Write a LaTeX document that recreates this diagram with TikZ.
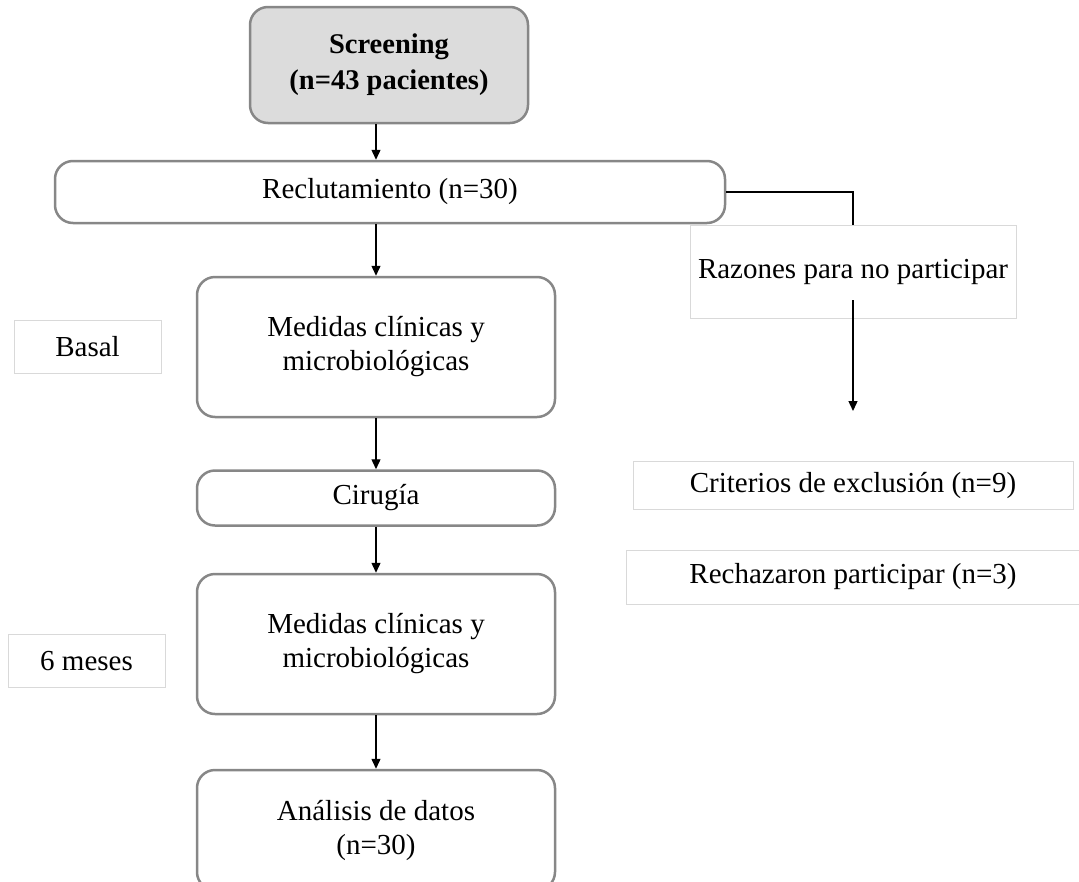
\documentclass[tikz,border=0pt]{standalone}
\usepackage{fontspec}
\setmainfont{Liberation Serif}
\usetikzlibrary{arrows.meta}
\definecolor{boxgray}{HTML}{878787}
\definecolor{fillgray}{HTML}{DCDCDC}
\definecolor{faint}{HTML}{D9D9D9}
\begin{document}
\begin{tikzpicture}[x=1pt,y=-1pt,
  txt/.style={font=\fontsize{29}{34}\selectfont, align=center, inner sep=0pt},
  rbox/.style={txt, draw=boxgray, line width=2.5pt, rounded corners=18pt},
  lbox/.style={txt, draw=faint, line width=1pt},
  arr/.style={line width=1.4pt, -{Triangle[length=10pt,width=9pt]}},
  con/.style={line width=1.4pt}]
\useasboundingbox (0,0) rectangle (1079,881);
\node[rbox, fill=fillgray, minimum width=278pt, minimum height=116pt, font=\fontsize{28.5}{36}\selectfont\bfseries] (scr) at (389,65) {Screening\\(n=43 pacientes)};
\node[rbox, minimum width=670pt, minimum height=62pt] (rec) at (390,192) {Reclutamiento (n=30)};
\node[rbox, minimum width=358pt, minimum height=140pt] (m1) at (376,347) {Medidas clínicas y\\microbiológicas};
\node[rbox, minimum width=358pt, minimum height=55pt] (cir) at (376,498) {Cirugía};
\node[rbox, minimum width=358pt, minimum height=140pt] (m2) at (376,644) {Medidas clínicas y\\microbiológicas};
\node[rbox, minimum width=358pt, minimum height=120pt] (ana) at (376,830) {Análisis de datos\\(n=30)};
\node[lbox, minimum width=147pt, minimum height=53pt] (bas) at (87.5,347) {Basal};
\node[lbox, minimum width=157pt, minimum height=53pt] (six) at (86.5,661) {6 meses};
\node[lbox, minimum width=326pt, minimum height=93pt] (raz) at (853,272) {Razones para no participar};
\node[lbox, minimum width=440pt, minimum height=48pt] (cri) at (853,485) {Criterios de exclusión (n=9)};
\node[lbox, minimum width=454pt, minimum height=54pt] (rch) at (853,577) {Rechazaron participar (n=3)};
\draw[arr] (scr.south -| m1.center) -- (rec.north -| m1.center);
\draw[arr] (rec.south -| m1.center) -- (m1.north);
\draw[arr] (m1.south) -- (cir.north);
\draw[arr] (cir.south) -- (m2.north);
\draw[arr] (m2.south) -- (ana.north);
\draw[con] (rec.east) -| (raz.north);
\coordinate (rzs) at (853,300);
\coordinate (rze) at (853,411);
\draw[arr] (rzs) -- (rze);
\end{tikzpicture}
\end{document}
